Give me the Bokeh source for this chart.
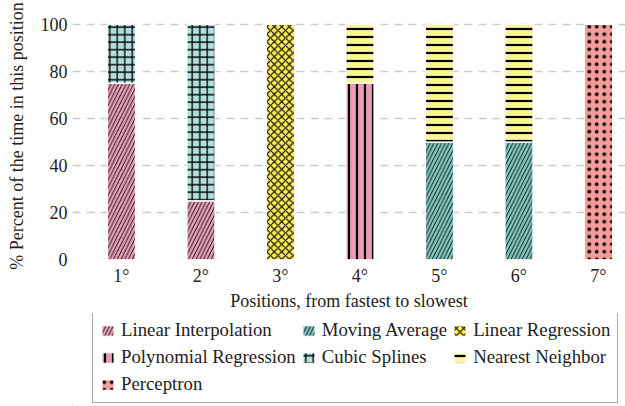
from bokeh.plotting import figure
from bokeh.models import Legend, LegendItem, ColumnDataSource
from bokeh.layouts import column
from bokeh.embed import file_html
from bokeh.resources import INLINE

# ---- data ----
positions = ["1°", "2°", "3°", "4°", "5°", "6°", "7°"]
series_names = ["Linear Interpolation", "Polynomial Regression", "Perceptron",
                "Moving Average", "Cubic Splines", "Linear Regression", "Nearest Neighbor"]
linear_interpolation = [75, 25, 0, 0, 0, 0, 0]
polynomial_regression = [0, 0, 0, 75, 0, 0, 0]
perceptron = [0, 0, 0, 0, 0, 0, 100]
moving_average = [0, 0, 0, 0, 50, 50, 0]
cubic_splines = [25, 75, 0, 0, 0, 0, 0]
linear_regression = [0, 0, 100, 0, 0, 0, 0]
nearest_neighbor = [0, 0, 0, 25, 50, 50, 0]
y_ticks = [0, 20, 40, 60, 80, 100]

# ---- styles ----
colors = ["#e9a0b7", "#e89cb4", "#f69b9b", "#80c6bf", "#b2dfdb", "#ffee58", "#fff59d"]
hatches = ["/", "|", ".", "/", "+", "x", "-"]
hatch_scales = [7.5, 8, 7.5, 7.5, 7.5, 7.5, 8]
hatch_weights = [0.9, 2.2, 2.2, 0.9, 1.3, 1.1, 2.2]

xs = list(range(1, len(positions) + 1))
keys = ["s%d" % i for i in range(len(series_names))]
data = dict(x=xs)
for k, vals in zip(keys, [linear_interpolation, polynomial_regression, perceptron,
                          moving_average, cubic_splines, linear_regression, nearest_neighbor]):
    data[k] = vals
source = ColumnDataSource(data)

FONT = "Liberation Serif"

p = figure(width=625, height=313, output_backend="svg", toolbar_location=None,
           x_range=(0.384, 7.34), y_range=(0, 105),
           min_border_left=72, min_border_right=0, min_border_top=12, min_border_bottom=48)

renderers = p.vbar_stack(keys, x="x", width=0.35, source=source,
                         fill_color=colors, line_color="white", line_width=1,
                         hatch_pattern=hatches, hatch_scale=hatch_scales,
                         hatch_weight=hatch_weights, hatch_color="black")

p.outline_line_color = None
p.xgrid.grid_line_color = None
p.ygrid.grid_line_color = "#cccccc"
p.ygrid.grid_line_width = 1.6
p.ygrid.grid_line_dash = "8 6"
p.ygrid.ticker = y_ticks

p.yaxis.ticker = y_ticks
p.xaxis.ticker = xs
p.xaxis.major_label_overrides = {x: lab for x, lab in zip(xs, positions)}

for ax in (p.xaxis[0], p.yaxis[0]):
    ax.axis_line_color = None
    ax.major_tick_line_color = None
    ax.minor_tick_line_color = None
    ax.major_tick_out = 0
    ax.major_tick_in = 0
    ax.minor_tick_out = 0
    ax.minor_tick_in = 0
    ax.major_label_text_font = FONT
    ax.major_label_text_font_size = "18px"
    ax.major_label_text_color = "#222222"
    ax.axis_label_text_font = FONT
    ax.axis_label_text_font_size = "18px"
    ax.axis_label_text_font_style = "normal"
    ax.axis_label_text_color = "#222222"

p.xaxis.axis_label = "Positions, from fastest to slowest"
p.yaxis.axis_label = "% Percent of the time in this position"
p.xaxis.major_label_standoff = 6
p.xaxis.axis_label_standoff = 2
p.yaxis.major_label_standoff = 5
p.yaxis.axis_label_standoff = 11

# ---- legend (separate strip below the chart) ----
lg = figure(width=625, height=93, output_backend="svg", toolbar_location=None,
            x_range=(0, 553), y_range=(0, 93), x_axis_location=None, y_axis_location=None,
            min_border_left=72, min_border_right=0, min_border_top=0, min_border_bottom=0)
lg.outline_line_color = None
lg.grid.visible = False
proxies = []
for c, h, s, w in zip(colors, hatches, hatch_scales, hatch_weights):
    # proxy glyphs lie outside the visible range; they only style the legend swatches
    proxies.append(lg.vbar(x=[-1000], top=[1], width=1, fill_color=c, line_color="white",
                           line_width=1, hatch_pattern=h, hatch_scale=s,
                           hatch_weight=w, hatch_color="black"))

order = [0, 3, 5, 1, 4, 6, 2]
items = [LegendItem(label=series_names[i], renderers=[proxies[i]]) for i in order]
legend = Legend(items=items, orientation="horizontal", ncols=3, location=(20, 3),
                label_text_font=FONT, label_text_font_size="18.8px", label_text_color="#222222",
                glyph_width=15, glyph_height=13, label_standoff=6, spacing=5,
                padding=7, margin=0, border_line_color="#555555", border_line_width=1.5,
                background_fill_color="white", background_fill_alpha=1)
lg.add_layout(legend, "center")

layout = column(p, lg, spacing=0)
open("out.html", "w").write(file_html(layout, INLINE))
